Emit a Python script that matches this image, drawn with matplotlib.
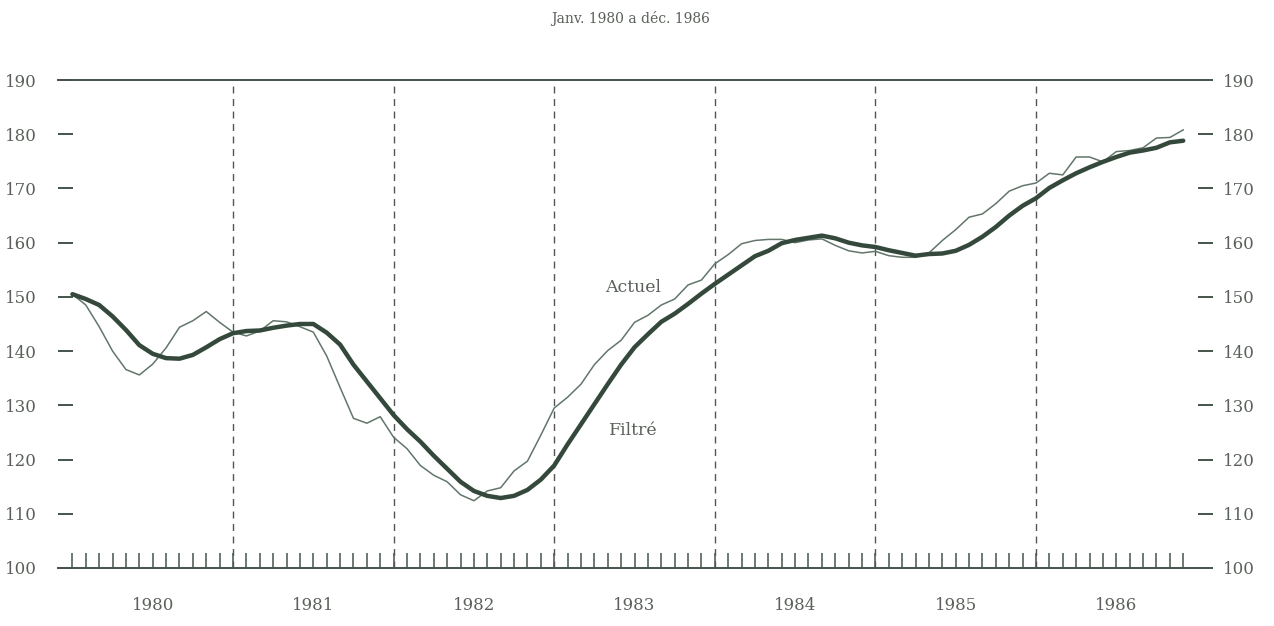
import numpy as np
import matplotlib.pyplot as plt

title = "Janv. 1980 a déc. 1986"
years = [1980, 1981, 1982, 1983, 1984, 1985, 1986]
y_ticks = [100, 110, 120, 130, 140, 150, 160, 170, 180, 190]

# valeurs mensuelles, janv. 1980 -> déc. 1986
actuel = [150.5, 148.5, 144.5, 140.0, 136.6, 135.6, 137.6, 140.6, 144.4, 145.6, 147.3, 145.3,
          143.5, 142.8, 143.7, 145.6, 145.4, 144.5, 143.5, 139.1, 133.3, 127.6, 126.7, 127.9,
          124.1, 122.0, 118.9, 117.1, 115.9, 113.5, 112.4, 114.2, 114.8, 117.9, 119.7, 124.5,
          129.5, 131.5, 133.9, 137.5, 140.1, 142.0, 145.3, 146.6, 148.5, 149.6, 152.2, 153.1,
          156.1, 157.8, 159.8, 160.4, 160.6, 160.6, 160.0, 160.5, 160.7, 159.5, 158.5, 158.1,
          158.4, 157.6, 157.3, 157.3, 158.1, 160.4, 162.4, 164.7, 165.3, 167.2, 169.5, 170.5,
          171.0, 172.8, 172.5, 175.8, 175.8, 174.9, 176.8, 177.0, 177.5, 179.3, 179.4, 180.8]

filtre = [150.5, 149.6, 148.5, 146.4, 143.9, 141.1, 139.5, 138.7, 138.6, 139.3, 140.7, 142.2,
          143.3, 143.7, 143.8, 144.3, 144.7, 145.0, 145.0, 143.4, 141.2, 137.5, 134.4, 131.3,
          128.2, 125.6, 123.3, 120.7, 118.3, 115.9, 114.2, 113.3, 112.9, 113.3, 114.4, 116.3,
          118.9, 122.8, 126.5, 130.2, 133.9, 137.5, 140.7, 143.1, 145.4, 146.9, 148.7, 150.6,
          152.4, 154.1, 155.8, 157.5, 158.5, 159.9, 160.5, 160.9, 161.3, 160.8, 160.0, 159.5,
          159.2, 158.6, 158.1, 157.6, 157.9, 158.0, 158.5, 159.6, 161.1, 162.9, 165.0, 166.8,
          168.2, 170.1, 171.5, 172.8, 173.9, 174.9, 175.8, 176.6, 177.0, 177.5, 178.5, 178.8]

months = np.arange(len(actuel))

plt.rcParams['font.family'] = ['DejaVu Serif']
txt = '#5a605a'
ink = '#44544a'

fig = plt.figure(figsize=(12.74, 6.26), dpi=100)
ax = fig.add_axes([0.0455, 0.0927, 0.8948, 0.7795])

# séparations annuelles
ax.vlines(months[12::12], 100, 190, colors='#555555', lw=1.0, linestyles=(0, (5, 4)))

ax.plot(months, actuel, color='#62766a', lw=1.1)
ax.plot(months, filtre, color='#34493b', lw=3.2, solid_capstyle='round')

ax.text(41.9, 151.8, "Actuel", fontsize=12.5, color=txt, ha='center', va='center')
ax.text(41.9, 125.3, "Filtré", fontsize=12.5, color=txt, ha='center', va='center')

ax.set_xlim(-1.08, 84.1)
ax.set_ylim(100, 190)

for side in ['left', 'right']:
    ax.spines[side].set_visible(False)
for side in ['top', 'bottom']:
    ax.spines[side].set_color(ink)
    ax.spines[side].set_linewidth(1.4)

# échelle de gauche: tirets vers l'intérieur
ax.set_yticks(y_ticks)
ax.set_yticklabels([str(v) for v in y_ticks])
ax.tick_params(axis='y', direction='in', length=11, width=1.4, color=ink,
               labelsize=12, labelcolor=txt, pad=15)

# échelle de droite: tirets vers l'extérieur
ax2 = ax.twinx()
ax2.set_ylim(100, 190)
ax2.set_yticks(y_ticks)
ax2.set_yticklabels([str(v) for v in y_ticks])
for s in ax2.spines.values():
    s.set_visible(False)
ax2.tick_params(axis='y', direction='out', length=11, width=1.4, color=ink,
                labelsize=12, labelcolor=txt, pad=7)

# tirets mensuels et années
ax.set_xticks(months)
ax.set_xticklabels([])
ax.tick_params(axis='x', direction='in', length=11, width=1.1, color=ink)
for i, yr in enumerate(years):
    ax.annotate(str(yr), xy=(12 * i + 6, 0), xycoords=('data', 'axes fraction'),
                xytext=(0, -27), textcoords='offset points',
                ha='center', va='center', fontsize=12, color=txt)

fig.text(0.495, 0.97, title, fontsize=10, color=txt, ha='center', va='center')

fig.savefig('out.png', dpi=100)
